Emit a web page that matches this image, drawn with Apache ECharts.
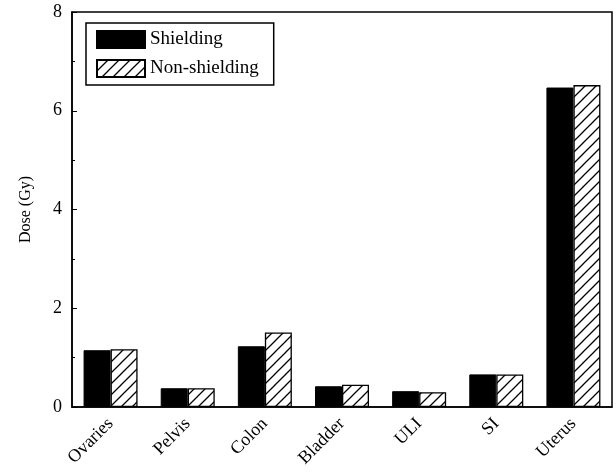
<!DOCTYPE html>
<html><head><meta charset="utf-8">
<script src="https://cdn.jsdelivr.net/npm/echarts@6/dist/echarts.min.js"></script>
<style>html,body{margin:0;padding:0;background:#fff}#c{width:616px;height:473px}</style>
</head><body><div id="c"></div>
<script>
const categories = ['Ovaries','Pelvis','Colon','Bladder','ULI','SI','Uterus'];
const shielding = [1.15, 0.38, 1.23, 0.42, 0.32, 0.66, 6.47];
const nonShielding = [1.17, 0.38, 1.51, 0.45, 0.30, 0.66, 6.52];
const yTicks = [0, 2, 4, 6, 8];

const P = 11;
const pc = document.createElement('canvas');
pc.width = P; pc.height = P;
const g = pc.getContext('2d');
g.fillStyle = '#fff'; g.fillRect(0,0,P,P);
g.strokeStyle = '#000'; g.lineWidth = 1.3;
g.beginPath();
g.moveTo(-1,P+1); g.lineTo(P+1,-1);
g.moveTo(-P-1,P+1); g.lineTo(1,-1);
g.moveTo(P-1,P+1); g.lineTo(2*P+1,-1);
g.stroke();

const font = '"Liberation Serif", "Times New Roman", serif';
const chart = echarts.init(document.getElementById('c'), null, {renderer:'canvas'});
chart.setOption({
  animation: false,
  backgroundColor: '#fff',
  grid: {left: 72, right: 4, top: 12, bottom: 66, show: true, borderColor: '#000', borderWidth: 1.5, containLabel: false},
  legend: {
    orient: 'vertical', left: 86, top: 23,
    itemWidth: 48, itemHeight: 17, itemGap: 10,
    padding: [7, 15, 7, 10],
    borderColor: '#000', borderWidth: 1.5,
    textStyle: {fontFamily: font, fontSize: 19, color: '#000'},
    data: [{name: 'Shielding', icon: 'rect'}, {name: 'Non-shielding', icon: 'rect'}]
  },
  xAxis: {
    type: 'category', data: categories,
    axisLine: {lineStyle: {color: '#000', width: 1.5}},
    axisTick: {inside: true, length: 3, lineStyle: {color: '#000'}},
    axisLabel: {rotate: 45, fontFamily: font, fontSize: 18, color: '#000', margin: 14},
    splitLine: {show: false}
  },
  yAxis: {
    type: 'value', min: yTicks[0], max: yTicks[yTicks.length-1], interval: 2,
    name: 'Dose (Gy)', nameLocation: 'middle', nameGap: 38,
    nameTextStyle: {fontFamily: font, fontSize: 16, color: '#000'},
    axisLine: {show: true, lineStyle: {color: '#000', width: 1.5}},
    axisTick: {show: true, inside: true, length: 5, lineStyle: {color: '#000'}},
    minorTick: {show: true, splitNumber: 2, length: 3, lineStyle: {color: '#000'}},
    axisLabel: {fontFamily: font, fontSize: 18, color: '#000', margin: 10},
    splitLine: {show: false}
  },
  series: [
    {name: 'Shielding', type: 'bar', data: shielding, barWidth: '35%', barGap: '0%',
     itemStyle: {color: '#000', borderColor: '#000', borderWidth: 1}},
    {name: 'Non-shielding', type: 'bar', data: nonShielding, barWidth: '35%',
     itemStyle: {color: {image: pc, repeat: 'repeat'}, borderColor: '#000', borderWidth: 1.3}}
  ]
});
</script></body></html>
